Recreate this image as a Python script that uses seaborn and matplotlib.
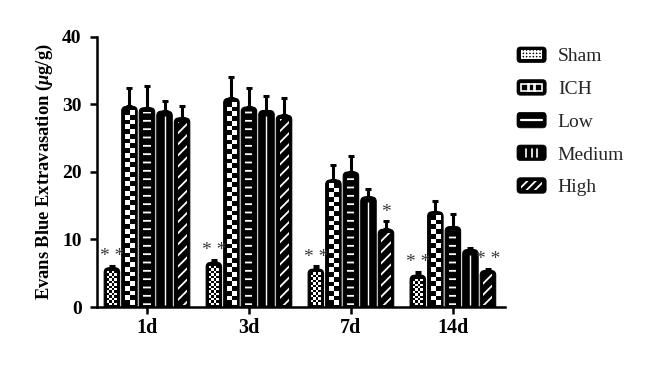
import numpy as np
import pandas as pd
import matplotlib
matplotlib.use("Agg")
import matplotlib.pyplot as plt
import seaborn as sns
from matplotlib.patches import FancyBboxPatch, Rectangle, Patch
from matplotlib.lines import Line2D
from matplotlib.legend_handler import HandlerBase

# ---------------- data ----------------
days = ["1d", "3d", "7d", "14d"]
groups = ["Sham", "ICH", "Low", "Medium", "High"]

sham_mean = [5.8, 6.6, 5.6, 4.7]
ich_mean = [29.7, 30.9, 18.8, 14.1]
low_mean = [29.5, 29.6, 20.0, 11.9]
medium_mean = [29.0, 29.1, 16.3, 8.5]
high_mean = [28.0, 28.4, 11.5, 5.4]

sham_err = [0.3, 0.4, 0.4, 0.5]
ich_err = [2.8, 3.2, 2.3, 1.6]
low_err = [3.2, 2.9, 2.3, 1.9]
medium_err = [1.5, 2.1, 1.2, 0.3]
high_err = [1.8, 2.6, 1.2, 0.3]

sham_marks = ["* *", "* *", "* *", "* *"]
high_marks = ["", "", "*", "* *"]

y_ticks = [0, 10, 20, 30, 40]
y_label = r"Evans Blue Extravasation ($\mu$g/g)"

means = {"Sham": sham_mean, "ICH": ich_mean, "Low": low_mean,
         "Medium": medium_mean, "High": high_mean}
errs = {"Sham": sham_err, "ICH": ich_err, "Low": low_err,
        "Medium": medium_err, "High": high_err}
marks = {"Sham": sham_marks, "High": high_marks}

# ---------------- style ----------------
sns.set_theme(style="ticks")
plt.rcParams["font.family"] = ["Liberation Serif", "DejaVu Serif"]
plt.rcParams["hatch.linewidth"] = 1.3
plt.rcParams["mathtext.fontset"] = "custom"
plt.rcParams["mathtext.it"] = "Liberation Serif:italic:bold"
plt.rcParams["mathtext.rm"] = "Liberation Serif:bold"
plt.rcParams["mathtext.bf"] = "Liberation Serif:bold"

rows = [(d, g, means[g][i]) for g in groups for i, d in enumerate(days)]
df = pd.DataFrame(rows, columns=["day", "group", "value"])

fig = plt.figure(figsize=(6.6, 3.71), dpi=100)
ax = fig.add_axes([0.147, 0.1725, 0.618, 0.728])

sns.barplot(data=df, x="day", y="value", hue="group", order=days,
            hue_order=groups, palette={g: "black" for g in groups},
            width=0.86, gap=0.12, errorbar=None, legend=False, ax=ax)

XL = (-0.49, 3.51)
YL = (0, 40)
ax.set_xlim(*XL)
ax.set_ylim(*YL)

pos = ax.get_position()
W = fig.get_figwidth() * fig.dpi * pos.width
H = fig.get_figheight() * fig.dpi * pos.height
ppx = W / (XL[1] - XL[0])
ppy = H / (YL[1] - YL[0])
aspect = ppx / ppy

bars = sorted([p for p in ax.patches if isinstance(p, Rectangle)],
              key=lambda p: p.get_x() + p.get_width() / 2)


def checker(x0, x1, y0, y1, ncols, cell_px):
    nrows = max(1, int(round((y1 - y0) * ppy / cell_px)))
    arr = (np.add.outer(np.arange(nrows), np.arange(ncols)) % 2).astype(float)
    ax.imshow(arr, extent=[x0, x1, y0, y1], cmap="gray", vmin=0, vmax=1,
              interpolation="nearest", aspect="auto", origin="lower", zorder=3)


for k, p in enumerate(bars):
    di, gi = k // len(groups), k % len(groups)
    g = groups[gi]
    x0, w, h = p.get_x(), p.get_width(), p.get_height()
    cx = x0 + w / 2
    p.set_visible(False)
    r = 4.5 / ppx
    fb = FancyBboxPatch((x0, -2), w, h + 2,
                        boxstyle=f"round,pad=0,rounding_size={r}",
                        mutation_aspect=aspect, fc="black", ec="black",
                        lw=0.8, zorder=2)
    ax.add_patch(fb)

    e = errs[g][di]
    ax.errorbar([cx], [h], yerr=[[0], [e]], fmt="none", ecolor="black",
                elinewidth=2.2, capsize=2.3, capthick=2.2, zorder=1.8)

    top_in = 3.8 / ppy
    bot_in = 2.0 / ppy
    if g == "Sham":
        dx = 3.0 / ppx
        checker(x0 + dx, x0 + w - dx, bot_in, h - top_in, 4, 2.4)
    elif g == "ICH":
        dx = 3.0 / ppx
        checker(x0 + dx, x0 + w - dx, bot_in, h - top_in, 2, 4.7)
    elif g == "Low":
        dx = 4.2 / ppx
        ax.add_patch(Rectangle((x0 + dx, bot_in), w - 2 * dx, h - top_in - bot_in,
                               fc="black", ec="white", lw=0, hatch="--", zorder=3))
    elif g == "Medium":
        ax.plot([cx, cx], [bot_in, h - 5.0 / ppy], color="white", lw=1.0,
                solid_capstyle="butt", zorder=3)
    elif g == "High":
        dx = 3.2 / ppx
        ax.add_patch(Rectangle((x0 + dx, bot_in), w - 2 * dx, h - top_in - bot_in,
                               fc="black", ec="white", lw=0, hatch="///", zorder=3))

    if g in marks and marks[g][di]:
        ax.text(cx, h + e + 0.1, marks[g][di], ha="center", va="bottom",
                fontsize=14, color="#3a3a3a", zorder=4)

ax.set_xlim(*XL)
ax.set_ylim(*YL)
ax.set_yticks(y_ticks)
ax.set_xlabel("")
ax.set_ylabel(y_label, fontsize=13.3, fontweight="bold", color="black")
ax.yaxis.set_label_coords(-0.13, 0.5)
ax.yaxis.label.set_va("center")

sns.despine(ax=ax)
for s in ("left", "bottom"):
    ax.spines[s].set_linewidth(1.8)
    ax.spines[s].set_color("black")
ax.tick_params(axis="both", width=1.8, length=5, color="black", direction="out")
ax.tick_params(axis="y", pad=6, labelsize=14)
ax.tick_params(axis="x", pad=3, labelsize=14.5)
for t in ax.get_xticklabels() + ax.get_yticklabels():
    t.set_fontweight("bold")
    t.set_color("black")


# ---------------- legend ----------------
class BarHandle(HandlerBase):
    def __init__(self, kind):
        super().__init__()
        self.kind = kind

    def create_artists(self, legend, orig_handle, xdescent, ydescent,
                       width, height, fontsize, trans):
        x0, y0 = -xdescent, -ydescent
        arts = [FancyBboxPatch((x0, y0), width, height,
                               boxstyle="round,pad=0,rounding_size=2.5",
                               fc="black", ec="black", lw=0.5, transform=trans)]
        k = self.kind
        ix, iy = x0 + width * 0.15, y0 + height * 0.22
        iw, ih = width * 0.7, height * 0.56
        if k == "Sham":
            arts.append(Rectangle((ix, iy), iw, ih, fc="black", ec="white",
                                  lw=0, hatch="+++++", transform=trans))
        elif k == "ICH":
            s = ih * 0.85
            for f in (0.28, 0.5, 0.72):
                cx = x0 + width * f
                arts.append(Rectangle((cx - s / 2, y0 + height / 2 - s / 2), s, s,
                                      fc="none", ec="white", lw=1.2,
                                      transform=trans))
        elif k == "Low":
            arts.append(Line2D([x0 + width * 0.15, x0 + width * 0.85],
                               [y0 + height / 2] * 2, color="white", lw=1.6,
                               transform=trans))
        elif k == "Medium":
            for f in (0.3, 0.5, 0.7):
                arts.append(Line2D([x0 + width * f] * 2,
                                   [y0 + height * 0.25, y0 + height * 0.75],
                                   color="white", lw=1.2, transform=trans))
        elif k == "High":
            arts.append(Rectangle((ix, iy), iw, ih, fc="black", ec="white",
                                  lw=0, hatch="////", transform=trans))
        return arts


handles = [Patch(label=g) for g in groups]
hmap = {hd: BarHandle(g) for hd, g in zip(handles, groups)}
fig.legend(handles=handles, labels=groups, handler_map=hmap, loc="upper left",
           bbox_to_anchor=(517 / 660, 1 - 47 / 371), frameon=False,
           fontsize=14, handlelength=1.5, handleheight=0.85,
           labelspacing=0.73, handletextpad=0.6, borderpad=0,
           borderaxespad=0)

fig.savefig("out.png", dpi=100)
